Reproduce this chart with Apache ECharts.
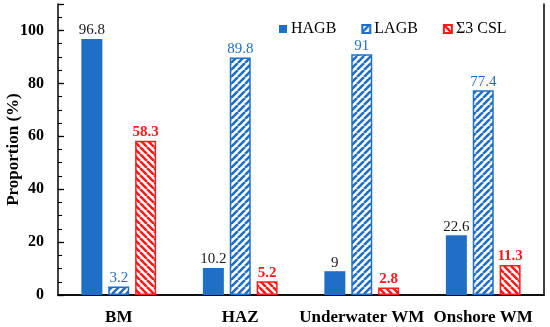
<!DOCTYPE html>
<html><head><meta charset="utf-8">
<script src="https://cdn.jsdelivr.net/npm/echarts@6/dist/echarts.min.js"></script>
<style>html,body{margin:0;padding:0;background:#fff}#c{width:550px;height:327px}</style>
</head><body><div id="c"></div>
<script>
const categories = ['BM', 'HAZ', 'Underwater WM', 'Onshore WM'];
const hagb = [96.8, 10.2, 9, 22.6];
const lagb = [3.2, 89.8, 91, 77.4];
const csl = [58.3, 5.2, 2.8, 11.3];
const seriesNames = ['HAGB', 'LAGB', 'Σ3 CSL'];

const BLUE = '#1f6fc6';
const RED = '#ff1a1a';
function stripes(color, dir) {
  const s = 7;
  const c = document.createElement('canvas');
  c.width = s; c.height = s;
  const g = c.getContext('2d');
  g.fillStyle = '#fff'; g.fillRect(0, 0, s, s);
  g.strokeStyle = color; g.lineWidth = 2.6;
  g.beginPath();
  for (let k = -1; k <= 1; k++) {
    if (dir > 0) { g.moveTo(k * s, s); g.lineTo(k * s + s, 0); }
    else { g.moveTo(k * s, 0); g.lineTo(k * s + s, s); }
  }
  g.stroke();
  return c;
}
const font = '"Liberation Serif", "Times New Roman", serif';
const frameLine = { show: true, lineStyle: { color: '#000', width: 1.5 } };
function tickAxis(interval, len, width) {
  return {
    type: 'value', min: 0, max: 110, interval: interval, position: 'left', offset: -len,
    axisLine: { show: false }, axisLabel: { show: false }, splitLine: { show: false },
    axisTick: { show: true, length: len, lineStyle: { color: '#000', width: width } }
  };
}
const chart = echarts.init(document.getElementById('c'));
chart.setOption({
  animation: false,
  textStyle: { fontFamily: font },
  grid: { left: 58, right: 6, top: 4, bottom: 32, show: false, containLabel: false, outerBoundsMode: 'none' },
  legend: {
    left: 274, top: 16, itemWidth: 8, itemHeight: 8, itemGap: 25, icon: 'rect',
    textStyle: { fontFamily: font, fontSize: 16, color: '#000', padding: [0, 0, 0, -1] },
    data: seriesNames
  },
  xAxis: [{
    type: 'category', data: categories,
    axisLine: frameLine,
    axisTick: { show: false },
    axisLabel: { interval: 0, fontFamily: font, fontWeight: 'bold', fontSize: 17, color: '#000', margin: 14 }
  }, {
    type: 'category', data: categories, position: 'top',
    axisLine: frameLine, axisTick: { show: false }, axisLabel: { show: false }
  }],
  yAxis: [{
    type: 'value', min: 0, max: 110, interval: 20,
    name: 'Proportion (%)', nameLocation: 'middle', nameGap: 36, nameMoveOverlap: false,
    nameTextStyle: { fontFamily: font, fontWeight: 'bold', fontSize: 17, color: '#000' },
    axisLine: frameLine,
    axisTick: { show: false },
    splitLine: { show: false },
    axisLabel: { fontFamily: font, fontWeight: 'bold', fontSize: 16, color: '#000', margin: 14,
      formatter: v => (v > 100 ? '' : v) }
  }, {
    type: 'value', min: 0, max: 110, interval: 20, position: 'right',
    axisLine: frameLine, axisTick: { show: false }, axisLabel: { show: false }, splitLine: { show: false }
  },
  tickAxis(20, 6, 1.3),
  tickAxis(5, 4, 1.1)],
  series: [
    { name: seriesNames[0], type: 'bar', data: hagb, barWidth: 21, barGap: '28%',
      itemStyle: { color: BLUE },
      label: { show: true, position: 'top', distance: 1, fontFamily: font, fontSize: 15, color: '#1a1a1a' } },
    { name: seriesNames[1], type: 'bar', data: lagb, barWidth: 21,
      itemStyle: { color: { image: stripes(BLUE, 1), repeat: 'repeat' }, borderColor: BLUE, borderWidth: 1.5 },
      label: { show: true, position: 'top', distance: 1, fontFamily: font, fontSize: 15, color: BLUE } },
    { name: seriesNames[2], type: 'bar', data: csl, barWidth: 21,
      itemStyle: { color: { image: stripes(RED, -1), repeat: 'repeat' }, borderColor: RED, borderWidth: 1.5 },
      label: { show: true, position: 'top', distance: 1, fontFamily: font, fontSize: 15, fontWeight: 'bold', color: RED } }
  ]
});
</script></body></html>
